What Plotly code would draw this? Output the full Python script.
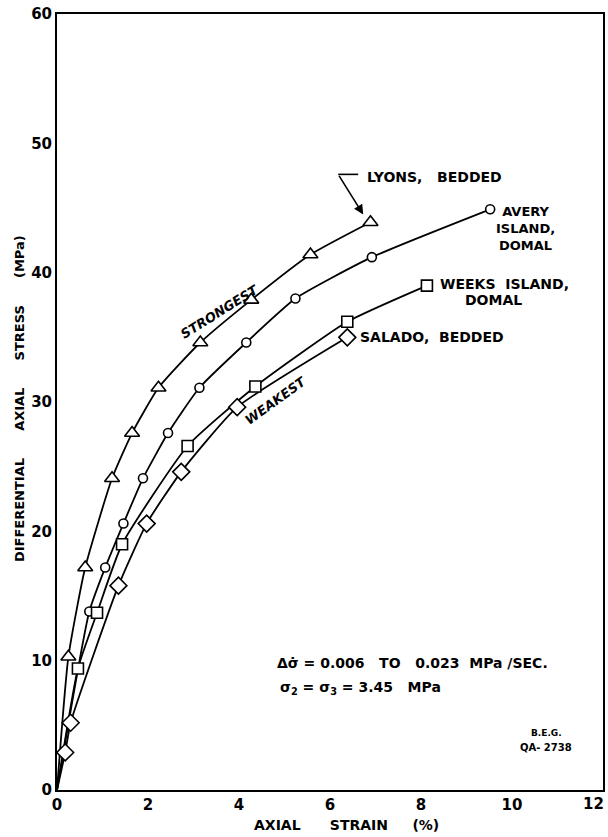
import plotly.graph_objects as go

# Axial strain (%) and differential axial stress (MPa) for each salt
lyons_strain = [0.25, 0.62, 1.21, 1.65, 2.23, 3.15, 4.27, 5.57, 6.89]
lyons_stress = [10.3, 17.2, 24.1, 27.6, 31.1, 34.6, 37.9, 41.4, 43.9]

avery_strain = [0.71, 1.06, 1.46, 1.89, 2.44, 3.13, 4.16, 5.24, 6.92, 9.52]
avery_stress = [13.8, 17.2, 20.6, 24.1, 27.6, 31.1, 34.6, 38.0, 41.2, 44.9]

weeks_strain = [0.46, 0.88, 1.43, 2.87, 4.36, 6.38, 8.13]
weeks_stress = [9.4, 13.7, 19.0, 26.6, 31.2, 36.2, 39.0]

salado_strain = [0.18, 0.30, 1.35, 1.97, 2.73, 3.96, 6.38]
salado_stress = [2.9, 5.2, 15.8, 20.6, 24.6, 29.6, 35.0]

x_ticks = [0, 2, 4, 6, 8, 10, 12]
x_tick_labels = ["0", "2", "4", "6", "8", "10", "12"]
y_ticks = [0, 10, 20, 30, 40, 50, 60]
y_tick_labels = ["0", "10", "20", "30", "40", "50", "60"]

FONT = "DejaVu Sans"
INK = "black"

series = [
    (lyons_strain, lyons_stress, "triangle-up", 13),
    (avery_strain, avery_stress, "circle", 9),
    (weeks_strain, weeks_stress, "square", 11),
    (salado_strain, salado_stress, "diamond", 13),
]

fig = go.Figure()

# curves start at the origin
for xs, ys, sym, size in series:
    fig.add_trace(go.Scatter(
        x=[0] + xs, y=[0] + ys, mode="lines",
        line=dict(color=INK, width=1.8, shape="spline", smoothing=0.5),
        hoverinfo="skip", showlegend=False,
    ))
for xs, ys, sym, size in series:
    fig.add_trace(go.Scatter(
        x=xs, y=ys, mode="markers",
        marker=dict(symbol=sym, size=size, color="white",
                    line=dict(color=INK, width=1.6)),
        showlegend=False, cliponaxis=False,
    ))

nb = "\u00a0"
TICK_FONT = dict(family=FONT, size=15, color=INK, weight="bold")

def txt(x, y, text, size=14, anchor="left", angle=0, xref="x", yref="y", yanchor="middle", weight="bold"):
    return dict(x=x, y=y, xref=xref, yref=yref, text=text, showarrow=False,
                xanchor=anchor, yanchor=yanchor, textangle=angle,
                font=dict(family=FONT, size=size, color=INK, weight=weight))

annotations = [
    txt(6.77, 47.4, "LYONS," + nb * 3 + "BEDDED"),
    txt(10.29, 43.4, "AVERY<br>ISLAND,<br>DOMAL", size=13, anchor="center"),
    txt(8.37, 39.1, "WEEKS" + nb * 2 + "ISLAND,"),
    txt(9.60, 37.9, "DOMAL", anchor="center"),
    txt(6.62, 35.0, "SALADO," + nb * 2 + "BEDDED"),
    txt(3.58, 37.0, "<i>STRONGEST</i>", size=13, anchor="center", angle=-32),
    txt(4.81, 30.1, "<i>WEAKEST</i>", size=13, anchor="center", angle=-36),
    txt(4.79, 9.8, "Δσ̇" + nb + "=" + nb + "0.006" + nb * 3 + "TO" + nb * 3 + "0.023" + nb * 2 + "MPa" + nb + "/SEC."),
    txt(4.85, 7.9, "σ<sub>2</sub>" + nb + "=" + nb + "σ<sub>3</sub>" + nb + "=" + nb + "3.45" + nb * 3 + "MPa"),
    txt(10.75, 4.4, "B.E.G.", size=9, anchor="center"),
    txt(10.75, 3.25, "QA-" + nb + "2738", size=10, anchor="center"),
    txt(-0.0696, 0.505, "DIFFERENTIAL" + nb * 6 + "AXIAL" + nb * 6 + "STRESS" + nb * 6 + "(MPa)",
        size=13, anchor="center", angle=-90, xref="paper", yref="paper"),
    txt(0.53, -0.045, "AXIAL" + nb * 6 + "STRAIN" + nb * 5 + "(%)",
        size=14, anchor="center", xref="paper", yref="paper"),
    # last strain tick label, kept inside the page edge
    dict(x=x_ticks[-1], y=-0.0175, xref="x", yref="paper", text=x_tick_labels[-1],
         showarrow=False, xanchor="right", yanchor="middle", xshift=3, font=TICK_FONT),
    # leader arrow to the Lyons end point
    dict(x=6.73, y=44.5, ax=6.18, ay=47.6, xref="x", yref="y", axref="x", ayref="y",
         text="", showarrow=True, arrowhead=2, arrowsize=1.2, arrowwidth=1.6, arrowcolor=INK,
         standoff=0, startstandoff=0),
]

shapes = [
    dict(type="line", x0=6.18, x1=6.62, y0=47.6, y1=47.6, xref="x", yref="y",
         line=dict(color=INK, width=1.6)),
]

axis_common = dict(
    showgrid=False, zeroline=False, ticks="", showline=True, linecolor=INK,
    linewidth=2, mirror=True, automargin=False, tickfont=TICK_FONT,
)

fig.update_layout(
    width=608, height=837,
    margin=dict(l=57, r=5, t=14, b=47, autoexpand=False),
    paper_bgcolor="white", plot_bgcolor="white",
    xaxis=dict(range=[0, 12], tickvals=x_ticks[:-1], ticktext=x_tick_labels[:-1], **axis_common),
    yaxis=dict(range=[0, 60], tickvals=y_ticks, ticktext=y_tick_labels, **axis_common),
    annotations=annotations, shapes=shapes,
)

fig.write_html("out.html")
